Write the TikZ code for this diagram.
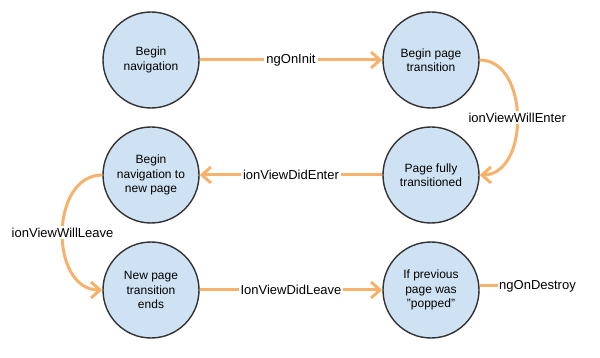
\documentclass[tikz,border=0pt]{standalone}
\usepackage{fontspec}
\setmainfont{Liberation Sans}
\usetikzlibrary{arrows.meta}
\definecolor{arrorange}{HTML}{F6B26B}
\definecolor{circfill}{HTML}{CFE2F3}
\definecolor{circline}{HTML}{333333}
\begin{document}
\begin{tikzpicture}[x=1pt,y=-1pt,
  state/.style={circle,draw=circline,fill=circfill,line width=1.4pt,minimum size=96pt,inner sep=0pt,
    align=center,font=\fontsize{12}{14.5}\selectfont},
  conn/.style={draw=arrorange,line width=3pt,-{Straight Barb[length=9pt,width=16pt]}},
  plain/.style={draw=arrorange,line width=3pt},
  lbl/.style={fill=white,inner sep=2pt,font=\fontsize{13}{15}\selectfont}]
\useasboundingbox (0,0) rectangle (600,358);
\node[state] (c1) at (151,60) {Begin\\navigation};
\node[state] (c2) at (431,60) {Begin page\\transition};
\node[state] (c3) at (431,175) {Page fully\\transitioned};
\node[state] (c4) at (151,175) {Begin\\navigation to\\new page};
\node[state] (c5) at (151,290) {New page\\transition\\ends};
\node[state] (c6) at (431,290) {If previous\\page was\\"popped"};
\draw[conn] (c1) -- node[lbl] {ngOnInit} (c2);
\draw[conn] (c2.east) .. controls +(50,0) and +(50,0) .. node[lbl,pos=0.5] {ionViewWillEnter} (c3.east);
\draw[conn] (c3) -- node[lbl] {ionViewDidEnter} (c4);
\draw[conn] (c4.west) .. controls +(-53,0) and +(-53,0) .. node[lbl,pos=0.5] {ionViewWillLeave} (c5.west);
\draw[conn] (c5) -- node[lbl] {IonViewDidLeave} (c6);
\node[lbl,anchor=west,inner sep=1pt] (nd) at (498,286) {ngOnDestroy};
\draw[plain] (c6.east |- nd.west) -- (nd.west);
\end{tikzpicture}
\end{document}
